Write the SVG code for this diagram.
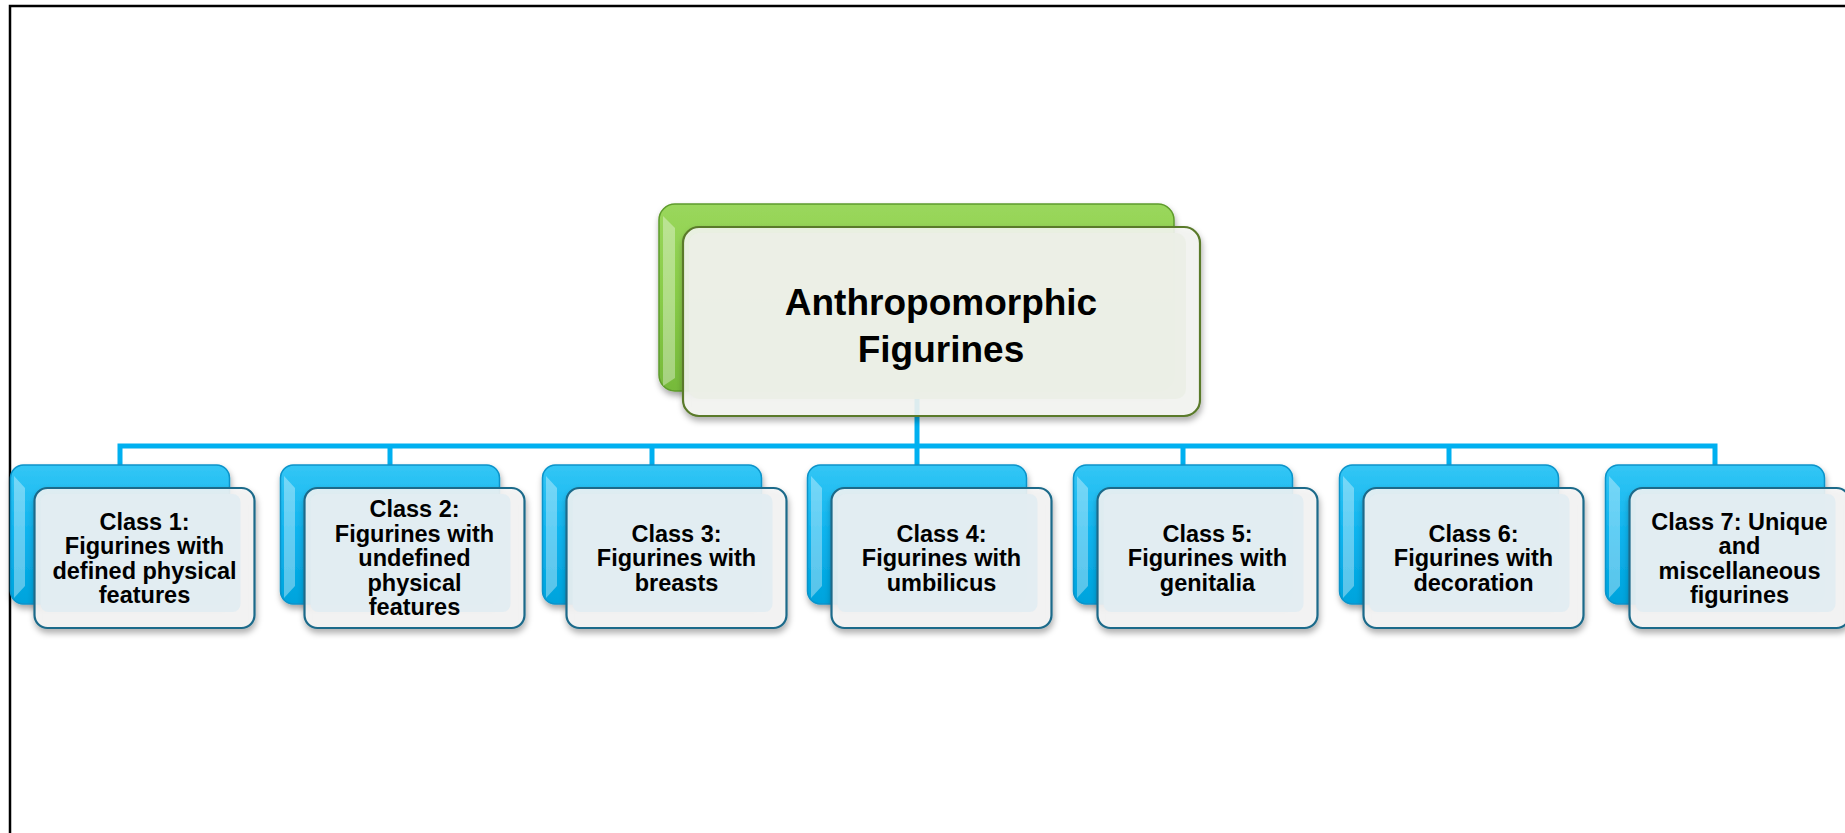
<svg xmlns="http://www.w3.org/2000/svg" width="1845" height="833" viewBox="0 0 1845 833">
<defs>
<style>
.t{font-family:"Liberation Sans",Arial,sans-serif;font-weight:bold;fill:#000;text-anchor:middle}
.ct{font-size:23.5px}
.tt{font-size:37px}
.conn{stroke:#00B0F0;stroke-width:5;fill:none}
.bb{fill:url(#gBlue);stroke:#0A93C9;stroke-width:1.5}
.gb{fill:url(#gGreen);stroke:#5E9B2C;stroke-width:1.5}
.fo{fill:#f5f5f5;fill-opacity:0.88;stroke:#1B6A8A;stroke-width:2.2}
.fog{fill:#f5f6f2;fill-opacity:0.88;stroke:#5A7A2B;stroke-width:2.2}
.fi{fill:#E2EDF2;fill-opacity:0.92}
.fig{fill:#EBEFE6;fill-opacity:0.92}
.bl{fill:#ffffff;opacity:0.35}
</style>
<linearGradient id="gBlue" x1="0" y1="0" x2="0" y2="1">
<stop offset="0" stop-color="#33C6F5"/>
<stop offset="0.5" stop-color="#0DB3EE"/>
<stop offset="1" stop-color="#00A3DC"/>
</linearGradient>
<linearGradient id="gGreen" x1="0" y1="0" x2="0" y2="1">
<stop offset="0" stop-color="#9AD75C"/>
<stop offset="0.5" stop-color="#88CC48"/>
<stop offset="1" stop-color="#76B93A"/>
</linearGradient>
<filter id="sh" x="-10%" y="-10%" width="120%" height="130%">
<feDropShadow dx="1" dy="4" stdDeviation="3" flood-color="#000" flood-opacity="0.35"/>
</filter>
</defs>
<rect width="1845" height="833" fill="#fff"/>
<path d="M10,833 V6 H1845" fill="none" stroke="#000" stroke-width="2.5"/>

<g id="connectors">
<path class="conn" d="M917,391 V446"/>
<path class="conn" d="M120,465 V446 H1715 V465"/>
<path class="conn" d="M390,446 V465 M652,446 V465 M917,446 V465 M1183,446 V465 M1449,446 V465"/>
</g>

<g id="top">
<rect class="gb" x="659" y="204" width="515" height="187" rx="16" filter="url(#sh)"/>
<path class="bl" d="M663,216 L675,228 L675,378 L663,386 Z"/>
<rect class="fog" x="683" y="227" width="517" height="189" rx="16" filter="url(#sh)"/>
<rect class="fig" x="689" y="233" width="497" height="166" rx="10"/>
<text class="t tt" x="941" y="315">Anthropomorphic</text>
<text class="t tt" x="941" y="362">Figurines</text>
</g>

<g id="class1">
<rect class="bb" x="10.5" y="465" width="219" height="139" rx="13" filter="url(#sh)"/>
<path class="bl" d="M14,476 L25,488 L25,586 L14,598 Z"/>
<rect class="fo" x="34.5" y="488" width="220" height="140" rx="13" filter="url(#sh)"/>
<rect class="fi" x="40.5" y="494" width="200" height="118" rx="8"/>
<text class="t ct" x="144.5" y="529.5">Class 1:</text>
<text class="t ct" x="144.5" y="554">Figurines with</text>
<text class="t ct" x="144.5" y="578.5">defined physical</text>
<text class="t ct" x="144.5" y="603">features</text>
</g>

<g id="class2">
<rect class="bb" x="280.5" y="465" width="219" height="139" rx="13" filter="url(#sh)"/>
<path class="bl" d="M284,476 L295,488 L295,586 L284,598 Z"/>
<rect class="fo" x="304.5" y="488" width="220" height="140" rx="13" filter="url(#sh)"/>
<rect class="fi" x="310.5" y="494" width="200" height="118" rx="8"/>
<text class="t ct" x="414.5" y="517">Class 2:</text>
<text class="t ct" x="414.5" y="541.5">Figurines with</text>
<text class="t ct" x="414.5" y="566">undefined</text>
<text class="t ct" x="414.5" y="590.5">physical</text>
<text class="t ct" x="414.5" y="615">features</text>
</g>

<g id="class3">
<rect class="bb" x="542.5" y="465" width="219" height="139" rx="13" filter="url(#sh)"/>
<path class="bl" d="M546,476 L557,488 L557,586 L546,598 Z"/>
<rect class="fo" x="566.5" y="488" width="220" height="140" rx="13" filter="url(#sh)"/>
<rect class="fi" x="572.5" y="494" width="200" height="118" rx="8"/>
<text class="t ct" x="676.5" y="541.5">Class 3:</text>
<text class="t ct" x="676.5" y="566">Figurines with</text>
<text class="t ct" x="676.5" y="590.5">breasts</text>
</g>

<g id="class4">
<rect class="bb" x="807.5" y="465" width="219" height="139" rx="13" filter="url(#sh)"/>
<path class="bl" d="M811,476 L822,488 L822,586 L811,598 Z"/>
<rect class="fo" x="831.5" y="488" width="220" height="140" rx="13" filter="url(#sh)"/>
<rect class="fi" x="837.5" y="494" width="200" height="118" rx="8"/>
<text class="t ct" x="941.5" y="541.5">Class 4:</text>
<text class="t ct" x="941.5" y="566">Figurines with</text>
<text class="t ct" x="941.5" y="590.5">umbilicus</text>
</g>

<g id="class5">
<rect class="bb" x="1073.5" y="465" width="219" height="139" rx="13" filter="url(#sh)"/>
<path class="bl" d="M1077,476 L1088,488 L1088,586 L1077,598 Z"/>
<rect class="fo" x="1097.5" y="488" width="220" height="140" rx="13" filter="url(#sh)"/>
<rect class="fi" x="1103.5" y="494" width="200" height="118" rx="8"/>
<text class="t ct" x="1207.5" y="541.5">Class 5:</text>
<text class="t ct" x="1207.5" y="566">Figurines with</text>
<text class="t ct" x="1207.5" y="590.5">genitalia</text>
</g>

<g id="class6">
<rect class="bb" x="1339.5" y="465" width="219" height="139" rx="13" filter="url(#sh)"/>
<path class="bl" d="M1343,476 L1354,488 L1354,586 L1343,598 Z"/>
<rect class="fo" x="1363.5" y="488" width="220" height="140" rx="13" filter="url(#sh)"/>
<rect class="fi" x="1369.5" y="494" width="200" height="118" rx="8"/>
<text class="t ct" x="1473.5" y="541.5">Class 6:</text>
<text class="t ct" x="1473.5" y="566">Figurines with</text>
<text class="t ct" x="1473.5" y="590.5">decoration</text>
</g>

<g id="class7">
<rect class="bb" x="1605.5" y="465" width="219" height="139" rx="13" filter="url(#sh)"/>
<path class="bl" d="M1609,476 L1620,488 L1620,586 L1609,598 Z"/>
<rect class="fo" x="1629.5" y="488" width="220" height="140" rx="13" filter="url(#sh)"/>
<rect class="fi" x="1635.5" y="494" width="200" height="118" rx="8"/>
<text class="t ct" x="1739.5" y="529.5">Class 7: Unique</text>
<text class="t ct" x="1739.5" y="554">and</text>
<text class="t ct" x="1739.5" y="578.5">miscellaneous</text>
<text class="t ct" x="1739.5" y="603">figurines</text>
</g>
</svg>
